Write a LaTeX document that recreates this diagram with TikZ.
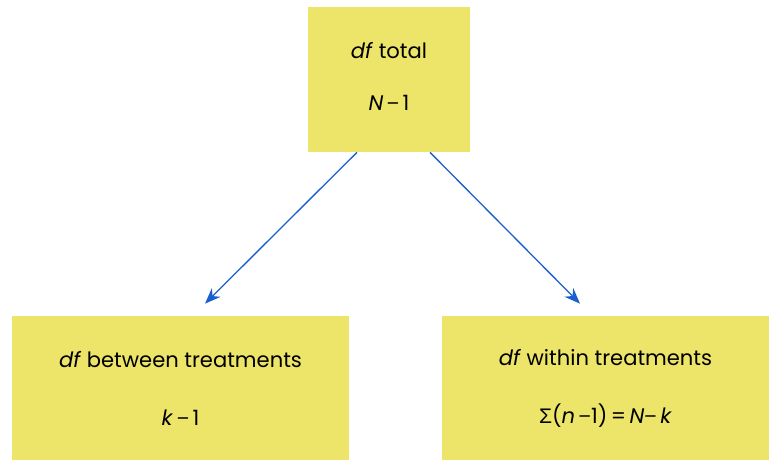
\documentclass[tikz,border=0pt]{standalone}
\usepackage{fontspec}
\setmainfont{Poppins}
\newfontfamily\greekfont{Liberation Sans}
\usepackage{xcolor}
\usetikzlibrary{positioning,arrows.meta}
\definecolor{boxyellow}{HTML}{EDE46A}
\definecolor{arrowblue}{HTML}{1A5FD0}
\newcommand{\mns}{{\greekfont −}}

\begin{document}
\begin{tikzpicture}[
    >=Stealth,
    every node/.style={font=\fontsize{12}{14}\selectfont},
    dfbox/.style={fill=boxyellow, draw=none, align=center, inner sep=0pt},
    arr/.style={->, draw=arrowblue, line width=0.75pt, -{Stealth[length=9pt,width=7pt]}}
]
    \useasboundingbox (0,0) rectangle (15.38,9.24);
    \node[dfbox, minimum width=3.24cm, minimum height=2.9cm]  (total)   at (7.78,7.65)
        {\raisebox{3pt}{\begin{tabular}{c}\textit{df} total\\[15.6pt]\textit{N}\,\mns\,1\end{tabular}}};
    \node[dfbox, minimum width=6.74cm, minimum height=2.88cm] (between) at (3.61,1.48)
        {\textit{df} between treatments\\[19pt]\textit{k}\,\mns\,1};
    \node[dfbox, minimum width=6.54cm, minimum height=2.88cm] (within)  at (12.11,1.48)
        {\textit{df} within treatments\\[19pt]{\greekfont Σ}(\textit{n}\,\mns1)\,=\,\textit{N}\mns\,\textit{k}};

    \draw[arr] ([xshift=-0.64cm]total.south) -- ([xshift=0.49cm,yshift=0.24cm]between.north);
    \draw[arr] ([xshift=0.82cm]total.south) -- ([xshift=-0.51cm,yshift=0.24cm]within.north);
\end{tikzpicture}
\end{document}
